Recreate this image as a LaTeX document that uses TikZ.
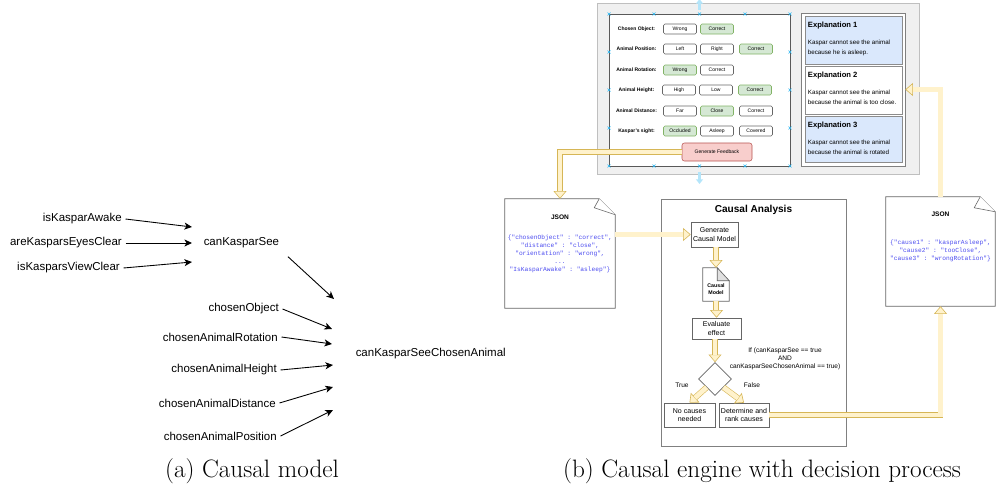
\documentclass[tikz,border=0pt]{standalone}
\usepackage{fontspec}
\setsansfont{Liberation Sans}
\setmonofont{Liberation Mono}
\usetikzlibrary{arrows.meta,calc,positioning,shapes.geometric}
\definecolor{flexfill}{HTML}{FFF2CC}
\definecolor{flexedge}{HTML}{D6B656}
\definecolor{okfill}{HTML}{D5E8D4}
\definecolor{okedge}{HTML}{82B366}
\definecolor{redfill}{HTML}{F8CECC}
\definecolor{rededge}{HTML}{B85450}
\definecolor{bluefill}{HTML}{DAE8FC}
\definecolor{handle}{HTML}{29B6F2}
\definecolor{jsonblue}{HTML}{4D4DF0}
\definecolor{panelgray}{HTML}{F0F0F0}
\newlength\pxu
\setlength\pxu{0.03cm}

\begin{document}
\begin{tikzpicture}[x=0.03cm, y=-0.03cm,
  var/.style={font=\sffamily\fontsize{9.8}{12}\selectfont, inner sep=3pt},
  cause/.style={-{Stealth[length=6.5pt,width=6pt,inset=1.8pt]}, line width=0.75pt},
  flabel/.style={font=\sffamily\bfseries\fontsize{4.3}{5}\selectfont, inner sep=0pt},
  btn/.style={draw=black!60, fill=white, rounded corners=1.2pt, line width=0.45pt,
    minimum width=33\pxu, minimum height=10\pxu, inner sep=0pt,
    font=\sffamily\fontsize{4.3}{5}\selectfont},
  okbtn/.style={btn, fill=okfill, draw=okedge},
  redbtn/.style={btn, fill=redfill, draw=rededge, rounded corners=2pt},
  handlemark/.style={draw=handle, line width=0.5pt},
  hover/.style={draw=handle!35, line width=2.2pt, -{Triangle[length=4pt,width=6pt]}},
  expbox/.style={draw=black!45, line width=0.5pt, minimum width=97\pxu, inner sep=0pt},
  extitle/.style={font=\sffamily\bfseries\fontsize{6.5}{7.5}\selectfont, anchor=west, inner sep=0pt},
  extext/.style={font=\sffamily\fontsize{5.3}{8.5}\selectfont, anchor=north west, align=left, inner sep=0pt},
  box/.style={draw=black!60, fill=white, line width=0.5pt, inner sep=0pt, align=center,
    font=\sffamily\fontsize{6}{7.2}\selectfont},
  small/.style={font=\sffamily\fontsize{5.6}{6.8}\selectfont, inner sep=0pt},
  code/.style={font=\ttfamily\fontsize{5.3}{6.8}\selectfont, text=jsonblue, align=center, inner sep=0pt},
  flexline/.style={draw=flexedge, line width=0.5pt, double=flexfill, double distance=4pt,
    line join=miter, shorten >=6.3pt},
  flexhead/.style={draw=flexedge, line width=0.5pt, -{Triangle[width=11pt,length=6.5pt,fill=flexfill]}}]
  \useasboundingbox (0,0) rectangle (998,498);

  % (a) causal model
  \node[var, anchor=east] (awake) at (125.5,219) {isKasparAwake};
  \node[var, anchor=east] (eyes) at (125.5,243) {areKasparsEyesClear};
  \node[var, anchor=east] (view) at (123.5,268) {isKasparsViewClear};
  \node[var, anchor=west] (see) at (200,243) {canKasparSee};
  \node[var, anchor=east] (obj) at (282.5,309) {chosenObject};
  \node[var, anchor=east] (rot) at (281.5,337) {chosenAnimalRotation};
  \node[var, anchor=east] (hgt) at (280.5,370) {chosenAnimalHeight};
  \node[var, anchor=east] (dist) at (279.5,403) {chosenAnimalDistance};
  \node[var, anchor=east] (pos) at (280.5,436) {chosenAnimalPosition};
  \node[var, anchor=west] (seeca) at (352,354) {canKasparSeeChosenAnimal};
  \coordinate (t1) at (192,227);
  \coordinate (t2) at (192,243);
  \coordinate (t3) at (192,262);
  \coordinate (t4) at (334,299);
  \coordinate (u1) at (332,329);
  \coordinate (u2) at (332,344);
  \coordinate (u3) at (333,365);
  \coordinate (u4) at (333,387);
  \coordinate (u5) at (333,410);
  \draw[cause] (awake.east) -- (t1);
  \draw[cause] (eyes.east) -- (t2);
  \draw[cause] (view.east) -- (t3);
  \draw[cause, shorten <=6pt] (see.south east) -- (t4);
  \draw[cause] (obj.east) -- (u1);
  \draw[cause] (rot.east) -- (u2);
  \draw[cause] (hgt.east) -- (u3);
  \draw[cause] (dist.east) -- (u4);
  \draw[cause] (pos.east) -- (u5);

  % (b) screen with form and explanations
  \node[draw=black!25, fill=panelgray, line width=0.6pt, minimum width=322\pxu,
    minimum height=171\pxu, inner sep=0pt] (screen) at (758,88.5) {};
  \node[draw=black!65, fill=white, line width=0.5pt, minimum width=181\pxu,
    minimum height=152\pxu, inner sep=0pt] (form) at (699.5,90) {};
  \node[flabel] (l1) at (636.5,29) {Chosen Object:};
  \node[btn] (b11) at (680,29) {Wrong};
  \node[okbtn] (b12) at (717,29) {Correct};
  \node[flabel] (l2) at (636.5,49) {Animal Position:};
  \node[btn] (b21) at (680,49) {Left};
  \node[btn] (b22) at (717,49) {Right};
  \node[okbtn] (b23) at (756,49) {Correct};
  \node[flabel] (l3) at (636.5,70) {Animal Rotation:};
  \node[okbtn] (b31) at (680,70) {Wrong};
  \node[btn] (b32) at (717,70) {Correct};
  \node[flabel] (l4) at (636.5,90) {Animal Height:};
  \node[btn] (b41) at (679,90) {High};
  \node[btn] (b42) at (716,90) {Low};
  \node[okbtn] (b43) at (755,90) {Correct};
  \node[flabel] (l5) at (636.5,111) {Animal Distance:};
  \node[btn] (b51) at (680,111) {Far};
  \node[okbtn] (b52) at (717,111) {Close};
  \node[btn] (b53) at (756,111) {Correct};
  \node[flabel] (l6) at (636.5,131) {Kaspar's sight:};
  \node[okbtn] (b61) at (680,131) {Occluded};
  \node[btn] (b62) at (717,131) {Asleep};
  \node[btn] (b63) at (756,131) {Covered};
  \node[redbtn, minimum width=70\pxu, minimum height=18\pxu] (gfb) at (717,152) {Generate Feedback};
  \foreach \hx in {609,654,699.5,745,790}
    \foreach \hy in {14,166}
      \draw[handlemark] (\hx,\hy) +(-1.5,-1.5) -- +(1.5,1.5) +(-1.5,1.5) -- +(1.5,-1.5);
  \foreach \hx in {609,790}
    \foreach \hy in {52,90,128}
      \draw[handlemark] (\hx,\hy) +(-1.5,-1.5) -- +(1.5,1.5) +(-1.5,1.5) -- +(1.5,-1.5);
  \coordinate (hovtop) at (699.5,-1);
  \coordinate (hovbot) at (699.5,184);
  \draw[hover] ($(form.north)+(0,-4)$) -- (hovtop);
  \draw[hover] ($(form.south)+(0,6)$) -- (hovbot);

  \node[draw=black!50, fill=white, line width=0.5pt, minimum width=104\pxu,
    minimum height=153\pxu, inner sep=0pt] (excont) at (853,89.5) {};
  \node[expbox, fill=bluefill, minimum height=48\pxu] (ex1) at (853.5,40) {};
  \node[expbox, fill=white, minimum height=48\pxu] (ex2) at (853.5,90) {};
  \node[expbox, fill=bluefill, minimum height=46\pxu] (ex3) at (853.5,139) {};
  \node[extitle] (ex1t) at ($(ex1.north west)+(3,10)$) {Explanation 1};
  \node[extext] (ex1b) at ($(ex1.north west)+(3,24)$) {Kaspar cannot see the animal\\because he is asleep.};
  \node[extitle] (ex2t) at ($(ex2.north west)+(3,10)$) {Explanation 2};
  \node[extext] (ex2b) at ($(ex2.north west)+(3,24)$) {Kaspar cannot see the animal\\because the animal is too close.};
  \node[extitle] (ex3t) at ($(ex3.north west)+(3,10)$) {Explanation 3};
  \node[extext] (ex3b) at ($(ex3.north west)+(3,24)$) {Kaspar cannot see the animal\\because the animal is rotated};

  % JSON documents
  \node[minimum width=110\pxu, minimum height=109\pxu, inner sep=0pt] (json1) at (560,253.5) {};
  \draw[black!60, fill=white, line width=0.5pt] (json1.north west) -- ($(json1.north east)+(-16,0)$)
    -- ($(json1.north east)+(0,16)$) -- (json1.south east) -- (json1.south west) -- cycle;
  \draw[black!60, fill=white, line width=0.5pt] ($(json1.north east)+(-16,0)$)
    -- ($(json1.north east)+(-21,9)$) -- ($(json1.north east)+(0,16)$);
  \node[font=\sffamily\bfseries\fontsize{5.6}{6.5}\selectfont, inner sep=0pt] (json1t) at ($(json1.north)+(0,18)$) {JSON};
  \node[code, anchor=north] (json1c) at ($(json1.north)+(0,36)$)
    {\{"chosenObject" : "correct",\\"distance" : "close",\\"orientation" : "wrong",\\...\\"IsKasparAwake" : "asleep"\}};

  \node[minimum width=109\pxu, minimum height=109\pxu, inner sep=0pt] (json2) at (940.5,251.5) {};
  \draw[black!60, fill=white, line width=0.5pt] (json2.north west) -- ($(json2.north east)+(-15,0)$)
    -- ($(json2.north east)+(0,15)$) -- (json2.south east) -- (json2.south west) -- cycle;
  \draw[black!60, fill=white, line width=0.5pt] ($(json2.north east)+(-15,0)$)
    -- ($(json2.north east)+(-21,11)$) -- ($(json2.north east)+(0,15)$);
  \node[font=\sffamily\bfseries\fontsize{5.6}{6.5}\selectfont, inner sep=0pt] (json2t) at ($(json2.north)+(0,17)$) {JSON};
  \node[code, anchor=north] (json2c) at ($(json2.north)+(0,43)$)
    {\{"cause1" : "kasparAsleep",\\"cause2" : "tooClose",\\"cause3" : "wrongRotation"\}};

  % causal analysis
  \node[draw=black!50, fill=white, line width=0.5pt, minimum width=185\pxu,
    minimum height=247\pxu, inner sep=0pt] (ca) at (753.5,322.5) {};
  \node[font=\sffamily\bfseries\fontsize{8.6}{10}\selectfont, inner sep=0pt] (cat) at (753.5,210) {Causal Analysis};
  \node[box, minimum width=47\pxu, minimum height=25\pxu] (gen) at (714.5,234.5) {Generate\\Causal Model};
  \node[minimum width=26\pxu, minimum height=33\pxu, inner sep=0pt] (cm) at (716,284.5) {};
  \draw[black!60, fill=white, line width=0.5pt] (cm.north west) -- ($(cm.north east)+(-12,0)$)
    -- ($(cm.north east)+(0,13)$) -- (cm.south east) -- (cm.south west) -- cycle;
  \draw[black!60, fill=black!12, line width=0.5pt] ($(cm.north east)+(-12,0)$)
    -- ($(cm.north east)+(-12,13)$) -- ($(cm.north east)+(0,13)$) -- cycle;
  \node[font=\sffamily\bfseries\fontsize{4.5}{6.5}\selectfont, align=center, inner sep=0pt] (cmt) at (716,289) {Causal\\Model};
  \node[box, minimum width=49\pxu, minimum height=21\pxu] (evalb) at (716.5,328.5) {Evaluate\\effect};
  \node[diamond, draw=black!60, fill=white, line width=0.5pt, aspect=1,
    minimum width=33\pxu, minimum height=33\pxu, inner sep=0pt] (dec) at (715,379) {};
  \node[small, align=center] (cond) at (785,359) {If (canKasparSee == true\\AND\\canKasparSeeChosenAnimal == true)};
  \node[small] (tru) at (682,385) {True};
  \node[small] (fal) at (752,385) {False};
  \node[box, minimum width=51\pxu, minimum height=24\pxu] (nocause) at (689.5,415) {No causes\\needed};
  \node[box, minimum width=50\pxu, minimum height=24\pxu] (detrank) at (744,415) {Determine and\\rank causes};

  % yellow arrows
  \draw[flexhead] ($(json1.north)+(0,-10)$) -- (json1.north);
  \draw[flexline] (gfb.west) -| (json1.north);
  \draw[flexhead] ($(gen.west)+(-10,0)$) -- (gen.west);
  \draw[flexline] (json1.east |- gen.west) -- (gen.west);
  \draw[flexhead] ($(cm.north)+(0,-10)$) -- (cm.north);
  \draw[flexline] (gen.south -| cm.north) -- (cm.north);
  \draw[flexhead] ($(evalb.north)+(0,-10)$) -- (evalb.north);
  \draw[flexline] (cm.south) -- (cm.south |- evalb.north);
  \draw[flexhead] ($(dec.north)+(0,-10)$) -- (dec.north);
  \draw[flexline] (evalb.south -| dec.north) -- (dec.north);
  \draw[flexhead] ($(dec.south west)!0.55!(nocause.north)$) -- (nocause.north);
  \draw[flexline] (dec.south west) -- (nocause.north);
  \draw[flexhead] ($(dec.south east)!0.55!(detrank.north)$) -- (detrank.north);
  \draw[flexline] (dec.south east) -- (detrank.north);
  \draw[flexhead] ($(json2.south)+(0,12)$) -- (json2.south);
  \draw[flexline] (detrank.east) -| (json2.south);
  \draw[flexhead] ($(excont.east)+(12,0)$) -- (excont.east);
  \draw[flexline] (json2.north) |- (excont.east);

  % captions
  \node[font=\rmfamily\fontsize{21.5}{26}\selectfont] (capa) at (252,471) {(a) Causal model};
  \node[font=\rmfamily\fontsize{21.5}{26}\selectfont] (capb) at (762,471) {(b) Causal engine with decision process};
\end{tikzpicture}
\end{document}
